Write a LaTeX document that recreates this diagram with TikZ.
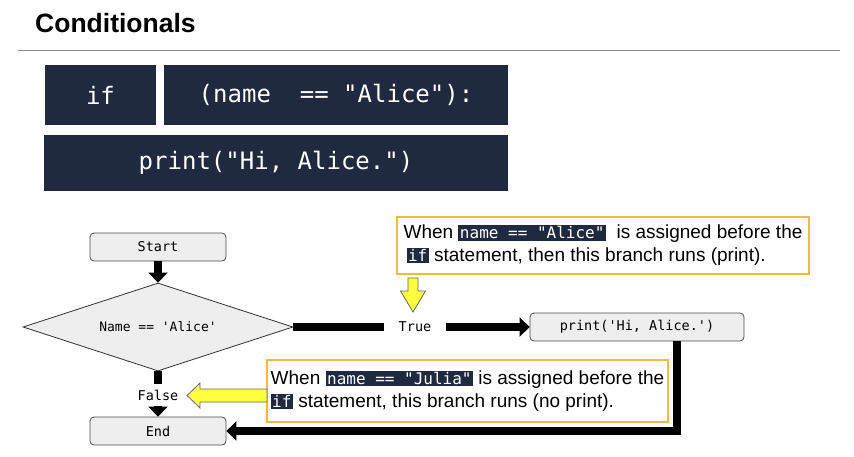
\documentclass[tikz,border=0pt]{standalone}
\usepackage{fontspec}
\setmainfont{Liberation Sans}
\setmonofont{DejaVu Sans Mono}
\usetikzlibrary{shapes.geometric,arrows.meta}
\definecolor{navy}{HTML}{1F2A40}
\definecolor{boxgray}{HTML}{EEEEEE}
\definecolor{calloutorange}{HTML}{F9B73E}
\definecolor{arrowyellow}{HTML}{FFFF40}
\newcommand\hlcode[1]{{\setlength\fboxsep{1.5pt}\colorbox{navy}{\textcolor{white}{\ttfamily\fontsize{16}{16}\selectfont #1}}}}
\tikzset{
  codebox/.style={fill=navy, text=white, inner sep=0pt, font=\ttfamily\fontsize{24}{24}\selectfont},
  flowbox/.style={draw=black!70, fill=boxgray, rounded corners=4pt, line width=0.8pt, inner sep=0pt, font=\ttfamily\fontsize{13.5}{14}\selectfont},
  flowlabel/.style={inner sep=0pt, font=\ttfamily\fontsize{13.5}{14}\selectfont},
  conn/.style={line width=8pt, black},
  connarrow/.style={conn, -{Triangle[width=19pt,length=10pt]}},
  callout/.style={draw=calloutorange, line width=2pt, fill=white, align=left, inner sep=0pt, font=\fontsize{19}{23}\selectfont},
  yellowarrow/.style={draw=black!60, fill=arrowyellow, line width=0.8pt, line join=miter},
}
\begin{document}
\begin{tikzpicture}[x=1pt,y=-1pt]
\useasboundingbox (0,0) rectangle (854,456);
% title
\node[anchor=base west, inner sep=0pt, font=\bfseries\fontsize{26.5}{28}\selectfont] (title) at (35,32) {Conditionals};
\draw[black!45, line width=1pt] (18,50) -- (840,50);
% code boxes
\node[codebox, minimum width=111pt, minimum height=60pt] (ifbox) at (100.5,95) {if};
\node[codebox, minimum width=344pt, minimum height=60pt] (condbox) at (336,95) {(name\ \ == "Alice"):};
\node[codebox, minimum width=464pt, minimum height=56pt] (printcode) at (276,163) {print("Hi, Alice.")};
% flowchart
\node[flowbox, minimum width=136pt, minimum height=28pt] (start) at (158,247) {Start};
\node[diamond, aspect=3, draw=black!80, fill=boxgray, line width=0.8pt, inner sep=0pt, minimum width=270pt, minimum height=88pt, font=\ttfamily\fontsize{13}{14}\selectfont] (dia) at (158,327) {Name == 'Alice'};
\node[flowlabel, minimum width=62pt, minimum height=20pt] (truelbl) at (415,327) {True};
\node[flowbox, minimum width=214pt, minimum height=28pt] (printbox) at (637,327) {print('Hi, Alice.')};
\node[flowlabel, minimum width=50pt, minimum height=22pt] (falselbl) at (158,395) {False};
\node[flowbox, minimum width=136pt, minimum height=28pt] (endbox) at (158,431) {End};
% connectors
\draw[connarrow] (start) -- (dia);
\draw[conn] (dia.east) -- (truelbl.west);
\draw[connarrow] (truelbl.east) -- (printbox.west);
\draw[conn] (dia.south) -- (falselbl.north);
\draw[connarrow] (falselbl.south) -- (endbox.north);
\draw[connarrow, line join=miter] ([xshift=40pt]printbox.south) |- (endbox.east);
% callouts
\node[callout, minimum width=412pt, minimum height=57pt] (callA) at (603,245.5)
  {When \hlcode{name == "Alice"}\ \ is assigned before the\\\hspace*{3pt}\hlcode{if} statement, then this branch runs (print).};
\node[callout, minimum width=401pt, minimum height=62pt] (callB) at (467.5,391)
  {When \hlcode{name == "Julia"} is assigned before the\\\hlcode{if} statement, this branch runs (no print).};
% yellow arrows
\draw[yellowarrow] (408,278) -- (418,278) -- (418,291) -- (425.5,291) -- (413,312) -- (400.5,291) -- (408,291) -- cycle;
\draw[yellowarrow] (267,389) -- (200,389) -- (200,383) -- (187,395.5) -- (200,408) -- (200,402) -- (267,402) -- cycle;
\end{tikzpicture}
\end{document}
